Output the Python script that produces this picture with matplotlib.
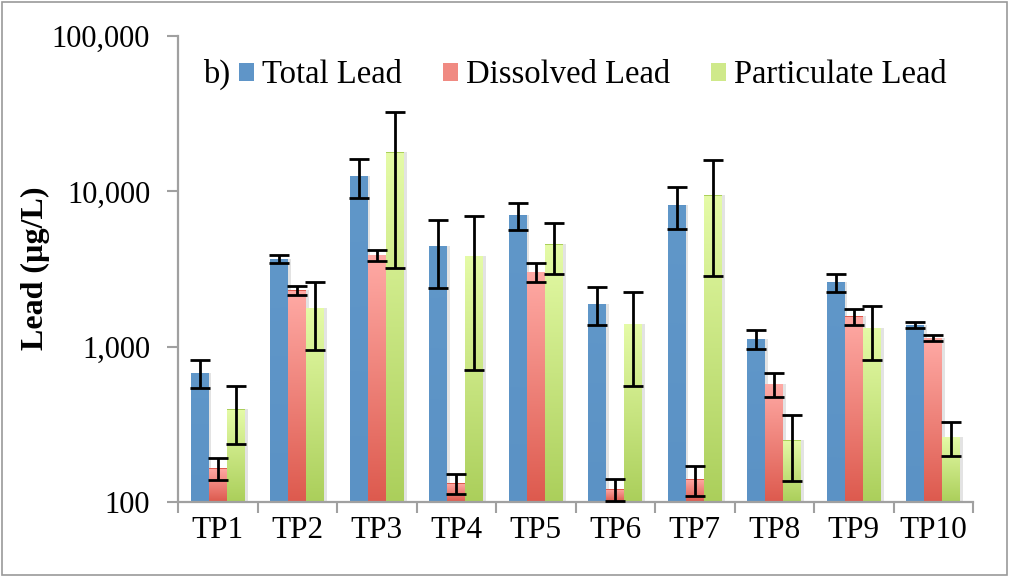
import numpy as np
import matplotlib.pyplot as plt
import matplotlib.patheffects as pe
from matplotlib.colors import LinearSegmentedColormap
from matplotlib.patches import Patch, Rectangle
from matplotlib.ticker import FixedLocator, FuncFormatter, NullLocator
import matplotlib.transforms as mtransforms

plt.rcParams['font.family'] = 'serif'
plt.rcParams['font.serif'] = ['Liberation Serif', 'DejaVu Serif']

sites = ['TP1', 'TP2', 'TP3', 'TP4', 'TP5', 'TP6', 'TP7', 'TP8', 'TP9', 'TP10']
series = ['Total Lead', 'Dissolved Lead', 'Particulate Lead']

# mean lead concentrations (ug/L) and standard deviations
total_lead = [680, 3660, 12600, 4450, 7000, 1890, 8150, 1125, 2590, 1375]
total_sd = [140, 215, 3500, 2070, 1390, 515, 2470, 152, 350, 58]
dissolved_lead = [165, 2300, 3900, 132, 3030, 121, 140, 575, 1570, 1138]
dissolved_sd = [27, 140, 320, 20, 410, 19, 31, 99, 190, 48]
particulate_lead = [395, 1780, 17900, 3840, 4580, 1400, 9430, 250, 1320, 263]
particulate_sd = [160, 830, 14700, 3130, 1630, 840, 6590, 113, 495, 65]

values = [total_lead, dissolved_lead, particulate_lead]
errors = [total_sd, dissolved_sd, particulate_sd]

# top -> bottom colours of each bar's fill
fills = [('#6097c9', '#5b92c5'),
         ('#ffaaa5', '#dd5a4e'),
         ('#e5fba7', '#abcf5b')]
legend_colors = ['#5f95c8', '#f08a82', '#cfe98a']

fig = plt.figure(figsize=(10.09, 5.77), dpi=100)
ax = fig.add_axes([178 / 1009, 1 - 502 / 577, 795 / 1009, 466 / 577])

x = np.arange(len(sites))
width = 0.228
offsets = [-width, 0, width]
ymin, ymax = 100, 100000
shadow = [pe.SimplePatchShadow(offset=(2, 0), shadow_rgbFace='#909090', alpha=0.25), pe.Normal()]
blend = mtransforms.blended_transform_factory(ax.transData, ax.transAxes)

for vals, errs, off, (c_top, c_bot) in zip(values, errors, offsets, fills):
    vals = np.asarray(vals, dtype=float)
    cmap = LinearSegmentedColormap.from_list('fill', [c_bot, c_top])
    grad = np.linspace(1, 0, 256).reshape(-1, 1)
    # bars start at the bottom of the log axis
    bars = ax.bar(x + off, vals - ymin, width, bottom=ymin, color=c_bot, linewidth=0, zorder=2)
    for bar, v in zip(bars, vals):
        bar.set_path_effects(shadow)
        # vertical gradient clipped to the bar
        top = (np.log10(v) - np.log10(ymin)) / (np.log10(ymax) - np.log10(ymin))
        x0 = bar.get_x()
        im = ax.imshow(grad, cmap=cmap, aspect='auto', extent=(x0, x0 + width, 0, top),
                       transform=blend, zorder=2.5, interpolation='bilinear')
        im.set_clip_path(bar)
    ax.errorbar(x + off, vals, yerr=errs, fmt='none', ecolor='black', elinewidth=2.0,
                capsize=7, capthick=2.0, zorder=4)

ax.set_yscale('log')
ax.set_ylim(ymin, ymax)
ax.set_xlim(-0.5, len(sites) - 0.5)
ax.yaxis.set_major_locator(FixedLocator([100, 1000, 10000, 100000]))
ax.yaxis.set_minor_locator(NullLocator())
ax.yaxis.set_major_formatter(FuncFormatter(lambda v, p: f'{v:,.0f}'))

# category boundaries as major ticks, names on minor ticks
ax.set_xticks(np.arange(-0.5, len(sites)), labels=[''] * (len(sites) + 1))
ax.set_xticks(x, labels=sites, minor=True)
ax.tick_params(axis='x', which='major', length=8, width=1.5, color='#a0a0a0', direction='out')
ax.tick_params(axis='x', which='minor', length=0, pad=10, labelsize=22.5)
ax.tick_params(axis='y', length=8, width=1.5, color='#a0a0a0', pad=12, labelsize=22)

for s in ['top', 'right']:
    ax.spines[s].set_visible(False)
for s in ['left', 'bottom']:
    ax.spines[s].set_color('#a0a0a0')
    ax.spines[s].set_linewidth(1.6)

fig.text(35 / 1009, 1 - 268 / 577, 'Lead (µg/L)', rotation=90, ha='center', va='center',
         fontsize=23, fontweight='bold')

ax.text(0.031, 0.918, 'b)', transform=ax.transAxes, fontsize=23.5, va='center', ha='left')
handles = [Patch(facecolor=c, edgecolor='none') for c in legend_colors]
ax.legend(handles, series, loc='center left', bbox_to_anchor=(0.077, 0.916), ncol=3,
          frameon=False, fontsize=23.5, handlelength=0.46, handleheight=0.46,
          handletextpad=0.25, columnspacing=1.25, borderpad=0, borderaxespad=0)

# chart area border
fig.patches.append(Rectangle((2 / 1009, 2 / 577), 1005 / 1009, 573 / 577, transform=fig.transFigure,
                             fill=False, edgecolor='#9a9a9a', linewidth=1.2))

fig.savefig('out.png', dpi=100)
